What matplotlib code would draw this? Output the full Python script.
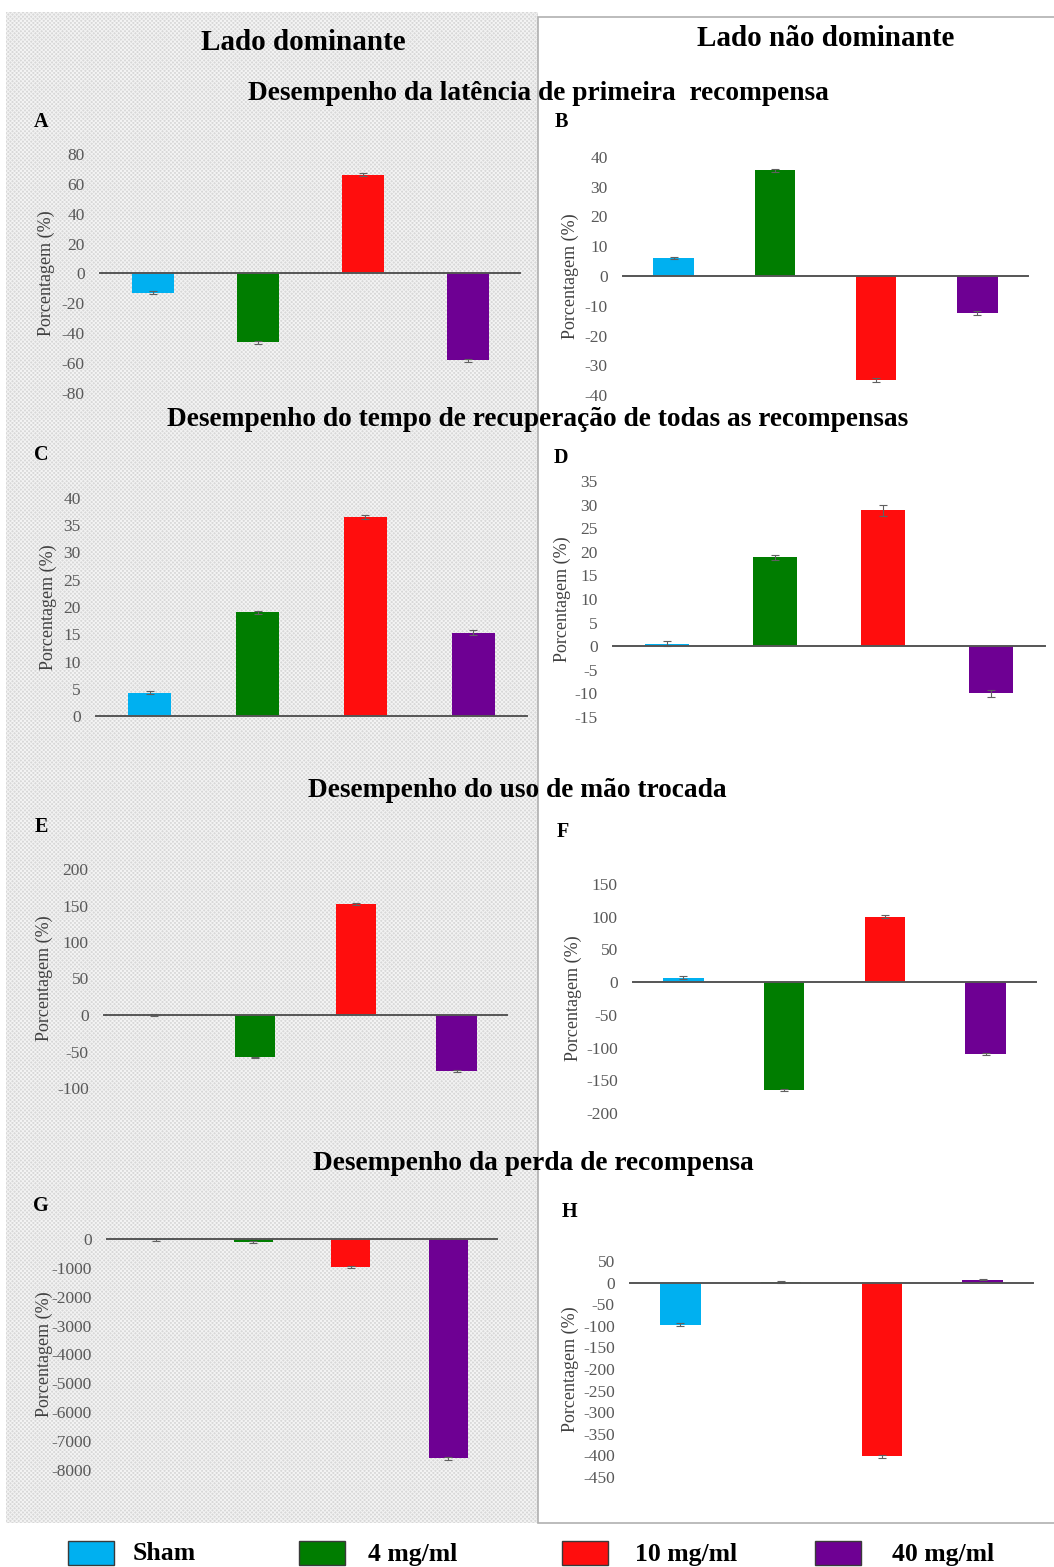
import matplotlib
matplotlib.use('Agg')
import matplotlib.pyplot as plt
from matplotlib.patches import Rectangle

plt.rcParams['font.family'] = ['Liberation Serif', 'DejaVu Serif']
plt.rcParams['hatch.linewidth'] = 0.7

W, H = 1054, 1567

# ---------------- data ----------------
groups = ['Sham', '4 mg/ml', '10 mg/ml', '40 mg/ml']
colors = ['#00B0F0', '#007D00', '#FF0D0D', '#6E0093']

vals_A = [-13, -46, 66, -58]
err_A = [1.0, 1.0, 1.0, 1.0]
vals_B = [6, 35.5, -35, -12.5]
err_B = [0.4, 0.4, 0.6, 0.6]
vals_C = [4.3, 19.0, 36.5, 15.3]
err_C = [0.3, 0.2, 0.3, 0.5]
vals_D = [0.5, 18.8, 28.8, -10.0]
err_D = [0.5, 0.5, 1.2, 0.7]
vals_E = [0, -58, 152, -77]
err_E = [1, 1, 1, 1]
vals_F = [7, -165, 100, -110]
err_F = [2, 2, 2, 2]
vals_G = [-40, -100, -960, -7600]
err_G = [30, 30, 40, 40]
vals_H = [-97, 1, -402, 7]
err_H = [3, 2, 3, 1]

ticks_A = [-80, -60, -40, -20, 0, 20, 40, 60, 80]
ticks_B = [-40, -30, -20, -10, 0, 10, 20, 30, 40]
ticks_C = [0, 5, 10, 15, 20, 25, 30, 35, 40]
ticks_D = [-15, -10, -5, 0, 5, 10, 15, 20, 25, 30, 35]
ticks_E = [-100, -50, 0, 50, 100, 150, 200]
ticks_F = [-200, -150, -100, -50, 0, 50, 100, 150]
ticks_G = [-8000, -7000, -6000, -5000, -4000, -3000, -2000, -1000, 0]
ticks_H = [-450, -400, -350, -300, -250, -200, -150, -100, -50, 0, 50]

side_titles = ['Lado dominante', 'Lado não dominante']
section_titles = ['Desempenho da latência de primeira  recompensa',
                  'Desempenho do tempo de recuperação de todas as recompensas',
                  'Desempenho do uso de mão trocada',
                  'Desempenho da perda de recompensa']
ylabel = 'Porcentagem (%)'

fig = plt.figure(figsize=(W / 100, H / 100), dpi=100)
fig.patch.set_facecolor('white')

# left textured background
fig.add_artist(Rectangle((6 / W, 1 - 1523 / H), (538 - 6) / W, (1523 - 12) / H,
                         transform=fig.transFigure, facecolor='#d8d8d8',
                         edgecolor='#f3f3f3', hatch='xxxxxxxx', linewidth=0, zorder=-3))
# right white panel with border
fig.add_artist(Rectangle((538 / W, 1 - 1523 / H), (1060 - 538) / W, (1523 - 17) / H,
                         transform=fig.transFigure, facecolor='white',
                         edgecolor='#b0b0b0', linewidth=1.2, zorder=-2))


def panel(x0, x1, ytop, ybot, ylim, ticks, vals, errs, ylab_x, letter, lx, ly):
    ax = fig.add_axes([x0 / W, 1 - ybot / H, (x1 - x0) / W, (ybot - ytop) / H])
    ax.patch.set_alpha(0)
    pos = list(range(len(groups)))
    ax.bar(pos, vals, width=0.4, color=colors, zorder=2)
    ax.errorbar(pos, vals, yerr=errs, fmt='none', ecolor='#606060',
                elinewidth=0.8, capsize=3, capthick=0.8, zorder=3)
    ax.axhline(0, color='#555555', lw=1.4, zorder=4, clip_on=False)
    ax.set_xlim(-0.5, 3.5)
    ax.set_ylim(*ylim)
    ax.set_yticks(ticks)
    ax.set_yticklabels([str(t) for t in ticks])
    ax.set_xticks([])
    for s in ax.spines.values():
        s.set_visible(False)
    ax.tick_params(axis='y', length=0, pad=11, labelsize=12.5, labelcolor='#595959')
    yc = (ytop + ybot) / 2
    fig.text(ylab_x / W, 1 - yc / H, ylabel, rotation=90, ha='center', va='center',
             fontsize=13, color='#404040')
    fig.text(lx / W, 1 - ly / H, letter, ha='center', va='center',
             fontsize=14.5, fontweight='bold', color='black')
    return ax


panel(100, 520, 154, 393, (-80, 80), ticks_A, vals_A, err_A, 46, 'A', 41, 122)
panel(623, 1028, 157, 395, (-40, 40), ticks_B, vals_B, err_B, 570, 'B', 561, 122)
panel(96, 527, 498, 716, (0, 40), ticks_C, vals_C, err_C, 48, 'C', 41, 455)
panel(613, 1045, 481, 717, (-15, 35), ticks_D, vals_D, err_D, 562, 'D', 561, 458)
panel(104, 507, 869, 1088, (-100, 200), ticks_E, vals_E, err_E, 44, 'E', 41, 827)
panel(633, 1036, 884, 1113, (-200, 150), ticks_F, vals_F, err_F, 573, 'F', 563, 832)
panel(107, 497, 1239, 1470, (-8000, 0), ticks_G, vals_G, err_G, 44, 'G', 41, 1206)
panel(630, 1033, 1261, 1477, (-450, 50), ticks_H, vals_H, err_H, 570, 'H', 570, 1212)

# side titles
fig.text(303 / W, 1 - 43 / H, side_titles[0], ha='center', va='center',
         fontsize=21, fontweight='bold')
fig.text(826 / W, 1 - 39 / H, side_titles[1], ha='center', va='center',
         fontsize=21, fontweight='bold')

# section titles
for (cx, cy), t in zip([(538, 93), (538, 420), (517, 790), (533, 1163)], section_titles):
    fig.text(cx / W, 1 - cy / H, t, ha='center', va='center', fontsize=19.7,
             fontweight='bold')

# legend
leg_patch_x = [68, 299, 562, 815]
leg_text_x = [133, 368, 635, 892]
for px, tx, c, g in zip(leg_patch_x, leg_text_x, colors, groups):
    fig.add_artist(Rectangle((px / W, 1 - 1565 / H), 46 / W, 24 / H,
                             transform=fig.transFigure, facecolor=c,
                             edgecolor='#3a3a3a', linewidth=1.0))
    fig.text(tx / W, 1 - 1554 / H, g, ha='left', va='center', fontsize=18.5,
             fontweight='bold')

fig.savefig('out.png', dpi=100)
